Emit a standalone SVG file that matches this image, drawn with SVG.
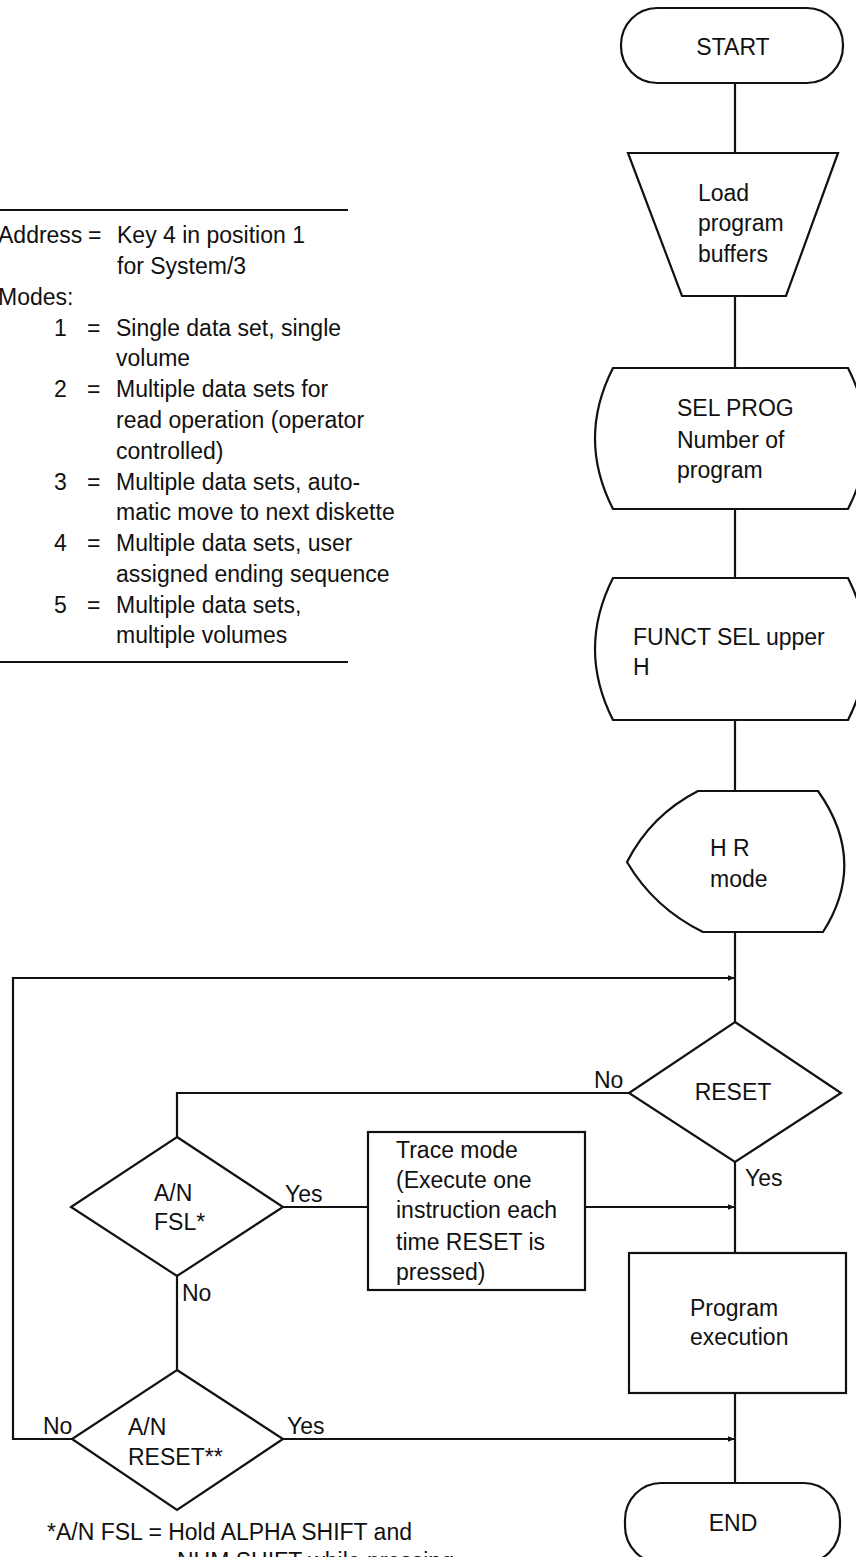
<svg xmlns="http://www.w3.org/2000/svg" width="856" height="1557" viewBox="0 0 856 1557">
<defs>
<marker id="arr" viewBox="0 0 10 10" refX="10" refY="5" markerWidth="9" markerHeight="7" markerUnits="userSpaceOnUse" orient="auto">
<path d="M0,1 L10,5 L0,9 Z" fill="#111"/>
</marker>
<style>
.s{fill:#fff;stroke:#111;stroke-width:2.2}
.c{fill:none;stroke:#111;stroke-width:2.2}
.ca{fill:none;stroke:#111;stroke-width:2.2;marker-end:url(#arr)}
text{font-family:"Liberation Sans",Arial,sans-serif;fill:#111;font-size:23px}
</style>
</defs>
<rect width="856" height="1557" fill="#fff"/>

<g id="legend">
<line class="c" x1="0" y1="210" x2="348" y2="210"/>
<line class="c" x1="0" y1="662" x2="348" y2="662"/>
<text x="-2" y="243">Address</text><text x="88" y="243">=</text><text x="117" y="243">Key 4 in position 1</text>
<text x="117" y="274">for System/3</text>
<text x="-2" y="305">Modes:</text>
<text x="54" y="336">1</text><text x="87" y="336">=</text><text x="116" y="336">Single data set, single</text>
<text x="116" y="366">volume</text>
<text x="54" y="397">2</text><text x="87" y="397">=</text><text x="116" y="397">Multiple data sets for</text>
<text x="116" y="428">read operation (operator</text>
<text x="116" y="459">controlled)</text>
<text x="54" y="490">3</text><text x="87" y="490">=</text><text x="116" y="490">Multiple data sets, auto-</text>
<text x="116" y="520">matic move to next diskette</text>
<text x="54" y="551">4</text><text x="87" y="551">=</text><text x="116" y="551">Multiple data sets, user</text>
<text x="116" y="582">assigned ending sequence</text>
<text x="54" y="613">5</text><text x="87" y="613">=</text><text x="116" y="613">Multiple data sets,</text>
<text x="116" y="643">multiple volumes</text>
</g>

<g id="connectors">
<path class="c" d="M735,83 V153"/>
<path class="c" d="M735,296 V368"/>
<path class="c" d="M735,509 V578"/>
<path class="c" d="M735,720 V791"/>
<path class="c" d="M735,932 V1022"/>
<path class="c" d="M735,1162 V1253"/>
<path class="c" d="M735,1393 V1483"/>
<path class="c" d="M629,1093 H177 V1137"/>
<path class="c" d="M283,1207 H368"/>
<path class="ca" d="M585,1207 H735"/>
<path class="c" d="M177,1276 V1370"/>
<path class="ca" d="M283,1439 H735"/>
<path class="ca" d="M72,1439 H13 V978 H735"/>
<text x="594" y="1088">No</text>
<text x="745" y="1186">Yes</text>
<text x="285" y="1202">Yes</text>
<text x="182" y="1301">No</text>
<text x="43" y="1434">No</text>
<text x="287" y="1434">Yes</text>
</g>

<g id="start">
<rect class="s" x="621" y="8" width="222" height="75" rx="36" ry="37"/>
<text x="733" y="55" text-anchor="middle">START</text>
</g>

<g id="load">
<path class="s" d="M628,153 L838,153 L786,296 L682,296 Z"/>
<text x="698" y="201">Load</text>
<text x="698" y="231">program</text>
<text x="698" y="262">buffers</text>
</g>

<g id="selprog">
<path class="s" d="M613,368 L848,368 Q884,438.5 848,509 L613,509 Q577,438.5 613,368 Z"/>
<text x="677" y="416">SEL PROG</text>
<text x="677" y="448">Number of</text>
<text x="677" y="478">program</text>
</g>

<g id="funct">
<path class="s" d="M613,578 L848,578 Q884,649 848,720 L613,720 Q577,649 613,578 Z"/>
<text x="633" y="645">FUNCT SEL upper</text>
<text x="633" y="675">H</text>
</g>

<g id="hrmode">
<path class="s" d="M698,791 L818,791 Q868,861.5 823,932 L703,932 Q654,908 627,862 Q651,815 698,791 Z"/>
<text x="710" y="856">H R</text>
<text x="710" y="887">mode</text>
</g>

<g id="reset">
<path class="s" d="M735,1022 L841,1093 L735,1162 L629,1093 Z"/>
<text x="733" y="1100" text-anchor="middle">RESET</text>
</g>

<g id="fsl">
<path class="s" d="M177,1137 L283,1207 L177,1276 L71,1207 Z"/>
<text x="154" y="1201">A/N</text>
<text x="154" y="1230">FSL*</text>
</g>

<g id="trace">
<rect class="s" x="368" y="1132" width="217" height="158"/>
<text x="396" y="1158">Trace mode</text>
<text x="396" y="1188">(Execute one</text>
<text x="396" y="1218">instruction each</text>
<text x="396" y="1250">time RESET is</text>
<text x="396" y="1280">pressed)</text>
</g>

<g id="program">
<rect class="s" x="629" y="1253" width="217" height="140"/>
<text x="690" y="1316">Program</text>
<text x="690" y="1345">execution</text>
</g>

<g id="anreset">
<path class="s" d="M177,1370 L283,1439 L177,1510 L72,1439 Z"/>
<text x="128" y="1435">A/N</text>
<text x="128" y="1465">RESET**</text>
</g>

<g id="end">
<rect class="s" x="625" y="1483" width="215" height="80" rx="36" ry="37"/>
<text x="733" y="1531" text-anchor="middle">END</text>
</g>

<g id="footnote">
<text x="47" y="1540">*A/N FSL = Hold ALPHA SHIFT and</text>
<text x="177" y="1569">NUM SHIFT while pressing</text>
</g>
</svg>
